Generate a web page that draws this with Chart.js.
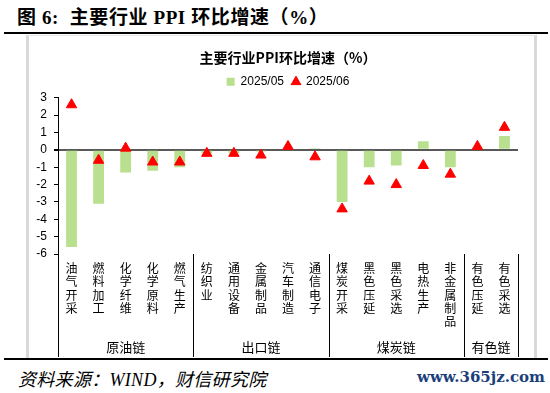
<!DOCTYPE html>
<html>
<head>
<meta charset="utf-8">
<script src="https://cdn.jsdelivr.net/npm/chart.js@4.4.0/dist/chart.umd.min.js"></script>
<style>
    html, body { margin: 0; padding: 0; background: #fff; }
    #page { position: relative; width: 550px; height: 393px; overflow: hidden; }
    #head { position: absolute; left: 17px; top: 2px; font: bold 19px "Liberation Serif", "Noto Sans CJK SC"; letter-spacing: 0.6px; color: #000; white-space: pre; }
    .rule { position: absolute; left: 4px; width: 544px; height: 2px; background: #000; }
    #box { position: absolute; left: 26px; top: 35px; width: 505px; height: 322px;
           border-left: 3px solid #d9d9d9; border-right: 3px solid #d9d9d9; border-top: 1px solid #e6e6e6; }
    #wrap { position: absolute; left: 29px; top: 37px; width: 505px; height: 321px; }
    #source { position: absolute; left: 18px; top: 365px; font: italic 18px "Liberation Serif", "Noto Sans CJK SC"; letter-spacing: 0.3px; color: #000; }
    #mark { position: absolute; right: 5px; top: 368px; font: bold 15px "DejaVu Serif"; color: #1c3f7c; }
</style>
</head>
<body>
<div id="page">
    <div id="head">图 6:  主要行业 PPI 环比增速（%）</div>
    <div class="rule" style="top:32px"></div>
    <div id="box"></div>
    <div id="wrap"><canvas id="ppiChart"></canvas></div>
    <div class="rule" style="top:358px"></div>
    <div id="source">资料来源：WIND，财信研究院</div>
    <div id="mark">www.365jz.com</div>
</div>

<script>
// ============================================================
// 数据
// ============================================================

const industries = [
    "油气开采", "燃料加工", "化学纤维", "化学原料", "燃气生产",
    "纺织业", "通用设备", "金属制品", "汽车制造", "通信电子",
    "煤炭开采", "黑色压延", "黑色采选", "电热生产", "非金属制品",
    "有色压延", "有色采选"
];

const may2025 = [-5.6, -3.1, -1.3, -1.2, -1.0, -0.2, -0.2, -0.1, 0, 0.1, -3.0, -1.0, -0.9, 0.5, -1.0, 0, 0.8];
const jun2025 = [2.6, -0.6, 0.1, -0.7, -0.7, -0.2, -0.2, -0.3, 0.2, -0.4, -3.4, -1.8, -2.0, -0.9, -1.4, 0.2, 1.3];

const chainNames = ["原油链", "出口链", "煤炭链", "有色链"];
const chainSizes = [5, 5, 5, 2];

const yMin = -6;
const yMax = 3;


// ============================================================
// 分组标签与分隔线
// ============================================================

const chainPlugin = {
    id: "chains",
    afterDraw(chart) {
        const ctx = chart.ctx;
        const x = chart.scales.x;
        const y = chart.scales.y;
        const half = (x.getPixelForValue(1) - x.getPixelForValue(0)) / 2;
        const top = y.bottom;
        const bottom = chart.height - 1;

        ctx.save();
        ctx.strokeStyle = "#000";
        ctx.lineWidth = 1;
        ctx.fillStyle = "#000";
        ctx.font = "13px 'Noto Sans CJK SC'";
        ctx.textAlign = "center";
        ctx.textBaseline = "middle";

        let start = 0;
        chainSizes.forEach((size, i) => {
            const left = x.getPixelForValue(start) - half;
            const right = x.getPixelForValue(start + size - 1) + half;
            [left, right].forEach(px => {
                ctx.beginPath();
                ctx.moveTo(Math.round(px) + 0.5, top);
                ctx.lineTo(Math.round(px) + 0.5, bottom);
                ctx.stroke();
            });
            ctx.fillText(chainNames[i], (left + right) / 2, 310);
            start += size;
        });
        ctx.restore();
    }
};


// ============================================================
// 图表
// ============================================================

const ctx = document.getElementById("ppiChart").getContext("2d");

new Chart(ctx, {
    type: "bar",
    data: {
        labels: industries.map(name => name.split("")),
        datasets: [
            {
                label: "2025/05",
                data: may2025,
                backgroundColor: "#b9e08f",
                barPercentage: 0.4,
                categoryPercentage: 1,
                pointStyle: "rect",
                order: 2
            },
            {
                type: "line",
                label: "2025/06",
                data: jun2025,
                showLine: false,
                pointStyle: "triangle",
                pointRadius: 6,
                pointHoverRadius: 6,
                pointBackgroundColor: "#ff0000",
                pointBorderColor: "#ff0000",
                backgroundColor: "#ff0000",
                borderColor: "#ff0000",
                order: 1
            }
        ]
    },
    options: {
        responsive: true,
        maintainAspectRatio: false,
        animation: false,
        layout: { padding: { right: 16, top: 0, bottom: 0, left: 0 } },
        scales: {
            x: {
                grid: { display: false },
                border: { display: false },
                ticks: {
                    autoSkip: false,
                    maxRotation: 0,
                    minRotation: 0,
                    color: "#000",
                    padding: 0,
                    font: { family: "'Noto Sans CJK SC'", size: 12, lineHeight: 1.1 }
                },
                afterFit: scale => { scale.height = 104; }
            },
            y: {
                min: yMin,
                max: yMax,
                ticks: {
                    stepSize: 1,
                    autoSkip: false,
                    color: "#000",
                    padding: 7,
                    font: { family: "'Liberation Sans'", size: 12 }
                },
                grid: {
                    drawOnChartArea: true,
                    color: c => (c.tick && c.tick.value === 0) ? "#595959" : "rgba(0,0,0,0)",
                    lineWidth: c => (c.tick && c.tick.value === 0) ? 2 : 1,
                    tickColor: "#000",
                    tickLength: 4
                },
                border: { display: true, color: "#000", width: 1 },
                afterFit: scale => { scale.width = 29; }
            }
        },
        plugins: {
            title: {
                display: true,
                fullSize: false,
                text: "主要行业PPI环比增速（%）",
                color: "#000",
                font: { family: "'Noto Sans CJK SC'", size: 14, weight: "bold" },
                padding: { top: 12, bottom: 2 }
            },
            legend: {
                display: true,
                fullSize: false,
                labels: {
                    usePointStyle: true,
                    boxWidth: 8,
                    boxHeight: 8,
                    padding: 8,
                    color: "#000",
                    font: { family: "'Liberation Sans'", size: 12 },
                    sort: (a, b) => a.datasetIndex - b.datasetIndex
                }
            },
            tooltip: { enabled: false }
        }
    },
    plugins: [chainPlugin]
});
</script>
</body>
</html>
